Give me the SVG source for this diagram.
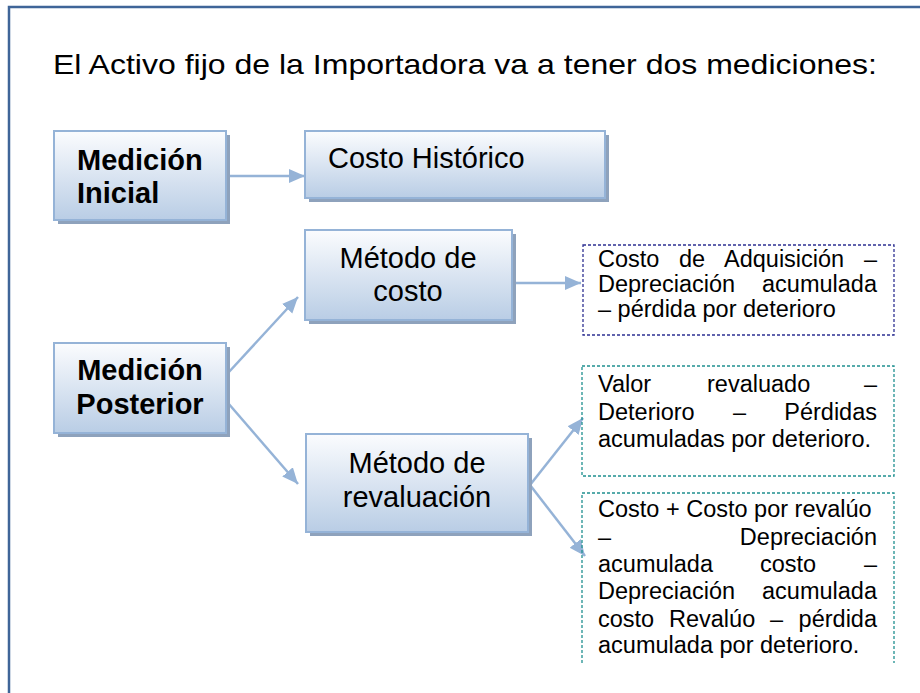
<svg xmlns="http://www.w3.org/2000/svg" width="920" height="693" viewBox="0 0 920 693">
<defs>
<linearGradient id="g" x1="0" y1="0" x2="0" y2="1">
<stop offset="0" stop-color="#FBFCFE"/>
<stop offset="1" stop-color="#B9CDE5"/>
</linearGradient>
<marker id="ah" markerUnits="userSpaceOnUse" markerWidth="18" markerHeight="16" refX="16" refY="8" orient="auto">
<path d="M0,1 L16,8 L0,15 Z" fill="#95B3D7"/>
</marker>
</defs>
<style>
.sh{fill:#8EA2BC}
.bx{fill:url(#g);stroke:#95B3D7;stroke-width:2}
.t{font-family:"Liberation Sans",Arial,sans-serif;fill:#000}
.b{font-weight:bold;font-size:29px}
.m{font-size:29px}
.s{font-size:23.5px}
.c{stroke:#95B3D7;stroke-width:2.5;fill:none;marker-end:url(#ah)}
.d1{fill:none;stroke:#2E3192;stroke-width:1.3;stroke-dasharray:3,2}
.d2{fill:none;stroke:#1F9090;stroke-width:1.3;stroke-dasharray:3,2}
</style>
<rect x="9" y="7" width="930" height="710" fill="#fff" stroke="#3F6598" stroke-width="2.5"/>
<text class="t" x="53" y="74" font-size="28.5" textLength="824" lengthAdjust="spacingAndGlyphs">El Activo fijo de la Importadora va a tener dos mediciones:</text>

<g id="connectors">
<line class="c" x1="228" y1="176" x2="305" y2="176"/>
<line class="c" x1="228" y1="373" x2="298" y2="297"/>
<line class="c" x1="228" y1="403" x2="298" y2="484"/>
<line class="c" x1="514" y1="283" x2="581" y2="283"/>
<line class="c" x1="530" y1="485" x2="583" y2="418"/>
<line class="c" x1="530" y1="485" x2="585" y2="556"/>
</g>

<g id="medicion-inicial">
<rect class="sh" x="58" y="135" width="172" height="89"/>
<rect class="bx" x="54" y="131" width="172" height="89"/>
<text class="t b" x="77" y="170">Medición</text>
<text class="t b" x="77" y="203">Inicial</text>
</g>

<g id="costo-historico">
<rect class="sh" x="309" y="135" width="300" height="67"/>
<rect class="bx" x="305" y="131" width="300" height="67"/>
<text class="t m" x="328" y="168">Costo Histórico</text>
</g>

<g id="metodo-costo">
<rect class="sh" x="309" y="234" width="207" height="90"/>
<rect class="bx" x="305" y="230" width="207" height="90"/>
<text class="t m" x="408" y="268" text-anchor="middle">Método de</text>
<text class="t m" x="408" y="301" text-anchor="middle">costo</text>
</g>

<g id="medicion-posterior">
<rect class="sh" x="58" y="347" width="172" height="90"/>
<rect class="bx" x="54" y="343" width="172" height="90"/>
<text class="t b" x="140" y="380" text-anchor="middle">Medición</text>
<text class="t b" x="140" y="414" text-anchor="middle">Posterior</text>
</g>

<g id="metodo-revaluacion">
<rect class="sh" x="310" y="438" width="222" height="98"/>
<rect class="bx" x="306" y="434" width="222" height="98"/>
<text class="t m" x="417" y="473" text-anchor="middle">Método de</text>
<text class="t m" x="417" y="507" text-anchor="middle">revaluación</text>
</g>

<g id="costo-adquisicion">
<rect class="d1" x="583" y="245" width="311" height="90"/>
<g class="t s">
<text x="598" y="267">Costo</text><text x="679" y="267">de</text><text x="724" y="267">Adquisición</text><text x="877" y="267" text-anchor="end">–</text>
<text x="598" y="292">Depreciación</text><text x="877" y="292" text-anchor="end">acumulada</text>
<text x="598" y="317">– pérdida por deterioro</text>
</g>
</g>

<g id="valor-revaluado">
<rect class="d2" x="582" y="366" width="312" height="110"/>
<g class="t s">
<text x="598" y="392">Valor</text><text x="707" y="392">revaluado</text><text x="877" y="392" text-anchor="end">–</text>
<text x="598" y="420">Deterioro</text><text x="733" y="420">–</text><text x="877" y="420" text-anchor="end">Pérdidas</text>
<text x="598" y="447">acumuladas por deterioro.</text>
</g>
</g>

<g id="costo-revaluo">
<path class="d2" d="M582,663 V493 H894 V663"/>
<g class="t s">
<text x="598" y="517">Costo + Costo por revalúo</text>
<text x="598" y="545">–</text><text x="877" y="545" text-anchor="end">Depreciación</text>
<text x="598" y="572">acumulada</text><text x="760" y="572">costo</text><text x="877" y="572" text-anchor="end">–</text>
<text x="598" y="599">Depreciación</text><text x="877" y="599" text-anchor="end">acumulada</text>
<text x="598" y="627">costo</text><text x="669" y="627">Revalúo</text><text x="770" y="627">–</text><text x="877" y="627" text-anchor="end">pérdida</text>
<text x="598" y="653">acumulada por deterioro.</text>
</g>
</g>
</svg>
